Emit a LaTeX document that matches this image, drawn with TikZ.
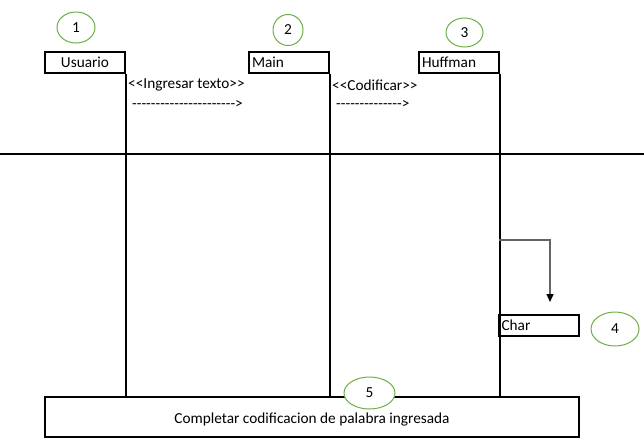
\documentclass[tikz,border=0pt]{standalone}
\usepackage{fontspec}
\newfontfamily\cf{Carlito}
\usetikzlibrary{shapes.geometric,arrows.meta}
\definecolor{grn}{RGB}{112,173,71}
\definecolor{arrg}{RGB}{100,100,100}
\begin{document}
\begin{tikzpicture}[x=1pt,y=-1pt,
  every node/.style={font=\cf\fontsize{15.3}{18}\selectfont},
  obj/.style={draw,line width=2pt,minimum width=80,minimum height=21,inner sep=0pt},
  objl/.style={obj,text width=74,align=left,inner xsep=3pt},
  num/.style={ellipse,draw=grn,line width=1pt,fill=white,inner sep=0pt},
  lab/.style={anchor=west,inner sep=0pt},
  life/.style={line width=1.2pt}]
\useasboundingbox (0,0) rectangle (644,445);
% objects
\node[obj] (usuario) at (85,62.5) {Usuario};
\node[objl] (main) at (289,62.5) {Main};
\node[objl] (huffman) at (459,62.5) {Huffman};
\node[objl] (char) at (538.5,325.5) {Char};
\node[draw,line width=2pt,minimum width=534,minimum height=40,inner sep=0pt] (bottom) at (312,417) {};
\node[inner sep=0pt] (btext) at (312,419) {Completar codificacion de palabra ingresada};
% lifelines
\draw[life] (usuario.south east) -- (usuario.south east |- bottom.north);
\draw[life] (main.south east) -- (main.south east |- bottom.north);
\draw[life] (huffman.south east) -- (huffman.south east |- bottom.north);
% separator line
\coordinate (hl) at (0,154);
\coordinate (hr) at (644,154);
\draw[line width=2pt] (hl) -- (hr);
% messages
\node[lab] (m1) at (128,85) {<{}<Ingresar texto>{}>};
\node[lab] (m1d) at (132,104) {-{}-{}-{}-{}-{}-{}-{}-{}-{}-{}-{}-{}-{}-{}-{}-{}-{}-{}-{}-{}-{}->};
\node[lab] (m2) at (332,85) {<{}<Codificar>{}>};
\node[lab] (m2d) at (336,104) {-{}-{}-{}-{}-{}-{}-{}-{}-{}-{}-{}-{}-{}->};
% self message
\coordinate (s1) at (499,240);
\coordinate (s2) at (550,240);
\coordinate (s3) at (550,302);
\draw[arrg,line width=1.2pt,-{Triangle[length=8pt,width=7pt,black]}] (s1) -- (s2) -- (s3);
% numbers
\node[num,minimum width=38,minimum height=31] (n1) at (76,27.5) {1};
\node[num,minimum width=30,minimum height=31] (n2) at (288,30) {2};
\node[num,minimum width=37,minimum height=29] (n3) at (464.5,32.5) {3};
\node[num,minimum width=48,minimum height=34] (n4) at (615,329) {4};
\node[num,minimum width=51,minimum height=32] (n5) at (369.5,393) {5};
\end{tikzpicture}
\end{document}
